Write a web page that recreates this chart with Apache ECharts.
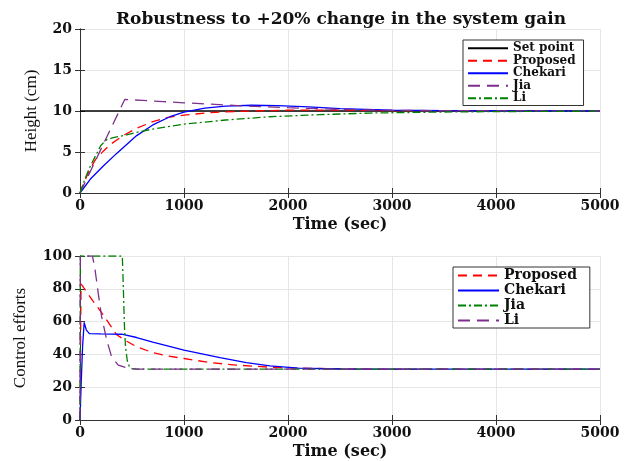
<!DOCTYPE html>
<html>
<head>
<meta charset="utf-8">
<script src="https://cdn.jsdelivr.net/npm/echarts@6/dist/echarts.min.js"></script>
<style>html,body{margin:0;padding:0;background:#fff}#c{width:634px;height:461px}</style>
</head>
<body>
<div id="c"></div>
<script>
// ---------- Data: top plot (Height, cm) ----------
const xTicks = [0, 1000, 2000, 3000, 4000, 5000];
const setT = [0, 5000];
const setV = [10, 10];
const propT = [0, 30, 64, 100, 150, 224, 300, 417, 545, 700, 833, 1000, 1250, 1500, 2000, 2500, 3000, 4000, 5000];
const propV = [0, 1.0, 2.0, 3.0, 4.1, 5.1, 6.0, 7.0, 7.9, 8.7, 9.2, 9.5, 9.8, 9.95, 10.1, 10.1, 10.05, 10.0, 10.0];
const chekT = [0, 100, 224, 350, 545, 700, 865, 1000, 1200, 1400, 1650, 1900, 2200, 2500, 3000, 3500, 4000, 5000];
const chekV = [0, 1.7, 3.3, 4.8, 7.0, 8.3, 9.3, 9.85, 10.35, 10.6, 10.7, 10.65, 10.5, 10.3, 10.1, 10.03, 10.0, 10.0];
const jiaT = [0, 430, 600, 800, 1000, 1300, 1600, 2000, 2500, 3000, 4000, 5000];
const jiaV = [0, 11.4, 11.3, 11.15, 11.0, 10.8, 10.6, 10.4, 10.2, 10.08, 10.02, 10.0];
const liT = [0, 50, 96, 200, 256, 320, 450, 545, 700, 1000, 1400, 1827, 2300, 2788, 3500, 4000, 5000];
const liV = [0, 1.8, 3.2, 5.8, 6.5, 6.75, 7.1, 7.4, 7.8, 8.4, 8.9, 9.3, 9.55, 9.75, 9.88, 9.93, 9.98];

// ---------- Data: bottom plot (Control efforts) ----------
const propT2 = [0, 10, 120, 224, 352, 450, 545, 705, 850, 1000, 1250, 1500, 1800, 2100, 2500, 3000, 5000];
const propV2 = [0, 83, 73, 64, 52, 48, 44.6, 41, 39, 37.5, 35, 33.5, 32.3, 31.6, 31.2, 31, 31];
const chekT2 = [0, 10, 25, 40, 60, 90, 200, 400, 545, 700, 1000, 1346, 1600, 1827, 2100, 2500, 3000, 5000];
const chekV2 = [0, 20, 45, 59.5, 55, 52.7, 52.5, 52.3, 50.3, 47.5, 42.6, 38.1, 35, 33, 31.6, 31.1, 31, 31];
const jiaT2 = [0, 3, 407, 417, 427, 437, 455, 475, 500, 550, 5000];
const jiaV2 = [0, 100, 100, 80, 58, 45, 36, 32.5, 31.3, 31, 31];
const liT2 = [0, 3, 120, 144, 176, 208, 256, 304, 368, 465, 550, 5000];
const liV2 = [0, 100, 100, 92, 77, 63, 49, 38.5, 33.5, 31.4, 31, 31];

const zip = (t, v) => t.map((x, i) => [x, v[i]]);

const serifB = 'DejaVu Serif';
const axisCol = '#333';
const gridCol = '#e6e6e6';
const tickLbl = {fontFamily: serifB, fontWeight: 'bold', fontSize: 14, color: '#111'};

function mkX(gi, name) {
  return [
    {type: 'value', gridIndex: gi, min: 0, max: 5000, interval: 1000,
     name: name, nameLocation: 'middle', nameGap: 24,
     nameTextStyle: {fontFamily: serifB, fontWeight: 'bold', fontSize: 16, color: '#111'},
     axisLine: {show: true, lineStyle: {color: axisCol, width: 1}},
     axisTick: {show: true, inside: true, length: 5, lineStyle: {color: axisCol}},
     axisLabel: Object.assign({margin: 6, formatter: v => String(v)}, tickLbl),
     splitLine: {show: true, lineStyle: {color: gridCol, width: 1}}},
    {type: 'value', gridIndex: gi, position: 'top', min: 0, max: 5000, interval: 1000,
     axisLine: {show: true, lineStyle: {color: axisCol, width: 1}},
     axisTick: {show: true, inside: true, length: 5, lineStyle: {color: axisCol}},
     axisLabel: {show: false}, splitLine: {show: false}}
  ];
}
function mkY(gi, max, interval, name, gap) {
  return [
    {type: 'value', gridIndex: gi, min: 0, max: max, interval: interval,
     name: name, nameLocation: 'middle', nameGap: gap,
     nameTextStyle: {fontFamily: 'Liberation Serif', fontSize: 17, color: '#111'},
     axisLine: {show: true, lineStyle: {color: axisCol, width: 1}},
     axisTick: {show: true, inside: true, length: 5, lineStyle: {color: axisCol}},
     axisLabel: Object.assign({margin: 8, formatter: v => String(v)}, tickLbl),
     splitLine: {show: true, lineStyle: {color: gridCol, width: 1}}},
    {type: 'value', gridIndex: gi, position: 'right', min: 0, max: max, interval: interval,
     axisLine: {show: true, lineStyle: {color: axisCol, width: 1}},
     axisTick: {show: true, inside: true, length: 5, lineStyle: {color: axisCol}},
     axisLabel: {show: false}, splitLine: {show: false}}
  ];
}

const dashRed = [9, 6];
const dashPurple = [12, 7];
const dashDot = [8, 3, 2, 3];

function ln(name, data, color, type, xi, yi, w) {
  return {name: name, type: 'line', data: data, xAxisIndex: xi, yAxisIndex: yi,
    showSymbol: false, symbol: 'none', animation: false,
    lineStyle: {color: color, width: w || 1.3, type: type},
    itemStyle: {color: color, opacity: 0}};
}

const option = {
  animation: false,
  backgroundColor: '#fff',
  title: {text: 'Robustness to +20% change in the system gain', left: 336, textAlign: 'center', top: 6,
    textStyle: {fontFamily: serifB, fontWeight: 'bold', fontSize: 17, color: '#111'}},
  grid: [
    {left: 80, top: 29, width: 520, height: 164},
    {left: 80, top: 256, width: 520, height: 164}
  ],
  xAxis: mkX(0, 'Time (sec)').concat(mkX(1, 'Time (sec)')),
  yAxis: mkY(0, 20, 5, 'Height (cm)', 40).concat(mkY(1, 100, 20, 'Control efforts', 51)),
  legend: [
    {data: ['Set point', 'Proposed', 'Chekari', 'Jia', 'Li'], orient: 'vertical', left: 463, top: 40,
     itemWidth: 40, itemHeight: 10, itemGap: 0, padding: [2, 8, 1, 4],
     borderColor: '#333', borderWidth: 1, backgroundColor: '#fff',
     textStyle: {fontFamily: serifB, fontWeight: 'bold', fontSize: 12, lineHeight: 12.5, color: '#111'}},
    {data: ['Proposed ', 'Chekari ', 'Jia ', 'Li '], orient: 'vertical', left: 453, top: 267,
     itemWidth: 41, itemHeight: 10, itemGap: 0, padding: [1, 8, 0, 4],
     borderColor: '#333', borderWidth: 1, backgroundColor: '#fff',
     textStyle: {fontFamily: serifB, fontWeight: 'bold', fontSize: 14, lineHeight: 15, color: '#111'}}
  ],
  series: [
    ln('Set point', zip(setT, setV), '#000000', 'solid', 0, 0, 1.5),
    ln('Proposed', zip(propT, propV), '#ff0000', dashRed, 0, 0),
    ln('Chekari', zip(chekT, chekV), '#0000ff', 'solid', 0, 0),
    ln('Jia', zip(jiaT, jiaV), '#7e2f8e', dashPurple, 0, 0),
    ln('Li', zip(liT, liV), '#008000', dashDot, 0, 0),
    ln('Proposed ', zip(propT2, propV2), '#ff0000', dashRed, 2, 2),
    ln('Chekari ', zip(chekT2, chekV2), '#0000ff', 'solid', 2, 2),
    ln('Jia ', zip(jiaT2, jiaV2), '#008000', dashDot, 2, 2),
    ln('Li ', zip(liT2, liV2), '#7e2f8e', dashPurple, 2, 2)
  ]
};

const chart = echarts.init(document.getElementById('c'), null, {renderer: 'canvas'});
chart.setOption(option);
</script>
</body>
</html>
